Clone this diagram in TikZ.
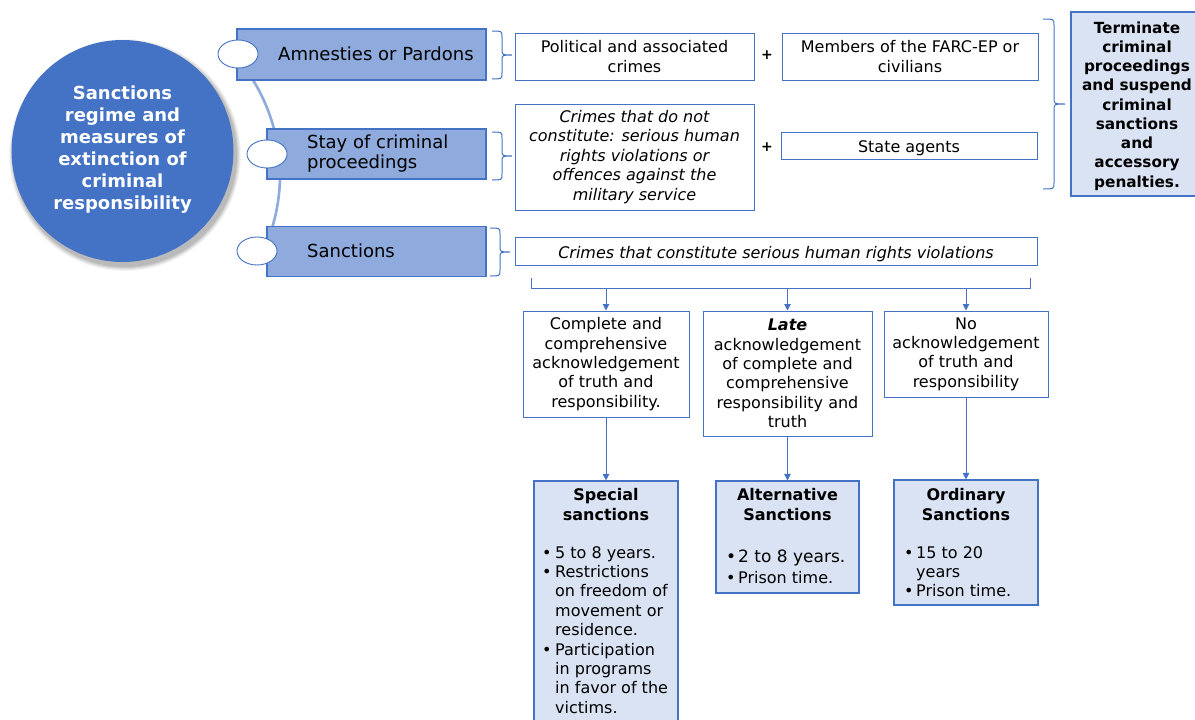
\documentclass[tikz,border=0pt]{standalone}
\usepackage{fontspec}
\setmainfont{DejaVu Sans}
\usetikzlibrary{arrows.meta,calc,shapes.geometric}
\definecolor{dblue}{HTML}{4472C4}
\definecolor{mblue}{HTML}{8FAADC}
\definecolor{lblue}{HTML}{DAE3F3}
\definecolor{edgeblue}{HTML}{4472C4}
\newcommand{\myfs}[2]{\fontsize{#1}{#2}\selectfont}
\newcommand{\bl}{\makebox[11pt][l]{•}}
\newcommand{\ind}{\hspace*{11pt}}
% right brace: x, ytop, ybottom, width
\newcommand{\rbr}[4]{%
  \draw[conn] (#1,#2) .. controls ({#1+0.5*#4},#2) .. ({#1+0.5*#4},{#2+6})
    -- ({#1+0.5*#4},{(#2+#3)/2-6}) .. controls ({#1+0.5*#4},{(#2+#3)/2}) .. ({#1+#4},{(#2+#3)/2})
    .. controls ({#1+0.5*#4},{(#2+#3)/2}) .. ({#1+0.5*#4},{(#2+#3)/2+6})
    -- ({#1+0.5*#4},{#3-6}) .. controls ({#1+0.5*#4},#3) .. (#1,#3);}
\begin{document}
\begin{tikzpicture}[x=1pt,y=-1pt,
  cat/.style={draw=edgeblue, line width=1.1pt, fill=mblue, inner sep=0pt},
  oval/.style={draw=edgeblue, line width=0.9pt, fill=white, ellipse, minimum width=40, minimum height=28, inner sep=0pt},
  wbox/.style={draw=edgeblue, line width=1pt, fill=white, inner sep=0pt, align=center, font=\myfs{16}{19.8}},
  lbox/.style={draw=edgeblue, line width=1.1pt, fill=lblue, inner sep=0pt},
  arr/.style={draw=edgeblue, line width=1pt, -{Triangle[length=6.5pt,width=6.5pt]}},
  conn/.style={draw=edgeblue, line width=1pt},
  plus/.style={font=\myfs{14}{16}\bfseries, inner sep=0pt}
]
\useasboundingbox (0,0) rectangle (1195,720);
\fill[white] (0,0) rectangle (1195,720);

% circle with soft shadow
\foreach \r/\o in {116/0.04,115/0.05,114/0.06,113/0.07,112/0.08}
  \fill[black, opacity=\o] (125,155) circle[radius=\r];
\node[circle, fill=dblue, minimum size=222, inner sep=0pt] (hub) at (122.5,151) {};
\node[text=white, font=\myfs{18}{22}\bfseries, align=center] (hubtext) at (hub.center) [yshift=1pt] {Sanctions\\regime and\\measures of\\extinction of\\criminal\\responsibility};

% arc
\draw[mblue, line width=2.6pt] (99.5,175) ++(-32:180.5) arc[start angle=-32, end angle=17, radius=180.5];

% category boxes
\node[cat, minimum width=249, minimum height=51] (amn) at (361.5,54.5) {};
\node[cat, minimum width=219, minimum height=50] (stay) at (376.5,154) {};
\node[cat, minimum width=219, minimum height=50] (sanc) at (376.5,251.5) {};
\node[oval] (o1) at (238,54) {};
\node[oval] (o2) at (267,154) {};
\node[oval] (o3) at (257,251) {};
\node[anchor=west, font=\myfs{18}{20}, inner sep=0pt] (amnt) at (278,54) {Amnesties or Pardons};
\node[anchor=west, font=\myfs{18}{20}, align=left, inner sep=0pt] (stayt) at (307,154) {Stay of criminal\\proceedings};
\node[anchor=west, font=\myfs{18}{20}, inner sep=0pt] (venct) at (307,251) {Sanctions};

% braces
\rbr{492}{31}{79}{20}
\rbr{492}{132}{180}{20}
\rbr{490}{228}{276}{20}

% white boxes
\node[wbox, minimum width=239, minimum height=47] (pol) at (634.5,56.5) {Political and associated\\crimes};
\node[plus] (p1) at (767,55) {+};
\node[wbox, minimum width=256, minimum height=47] (farc) at (910,56.5) {Members of the FARC-EP or\\civilians};
\node[wbox, minimum width=239, minimum height=106, font=\myfs{16}{19.5}\itshape] (notc) at (634.5,157) {Crimes that do not\\constitute: serious human\\rights violations or\\offences against the\\military service};
\node[plus] (p2) at (767,147) {+};
\node[wbox, minimum width=256, minimum height=27, text height=15pt, text depth=1pt] (state) at (909,145.5) {State agents};
\node[wbox, minimum width=522, minimum height=28, text height=15pt, text depth=1pt, font=\myfs{16}{19.5}\itshape] (serious) at (776,251) {Crimes that constitute serious human rights violations};

% big brace and result
\rbr{1043}{19}{189}{22}
\node[lbox, minimum width=126, minimum height=184] (term) at (1134,104) {};
\node[font=\myfs{15.3}{19.25}\bfseries, align=center, inner sep=0pt] (termt) at (1137,106) {Terminate\\criminal\\proceedings\\and suspend\\criminal\\sanctions\\and\\accessory\\penalties.};

% acknowledgement boxes
\node[wbox, minimum width=166, minimum height=106, font=\myfs{16}{19.3}] (comp) at (606,364) {Complete and\\comprehensive\\acknowledgement\\of truth and\\responsibility.};
\node[wbox, minimum width=169, minimum height=125, font=\myfs{16}{19.3}] (late) at (787.5,373.5) {\textbf{\textit{Late}}\\acknowledgement\\of complete and\\comprehensive\\responsibility and\\truth};
\node[wbox, minimum width=164, minimum height=86, font=\myfs{16}{19.3}] (noack) at (966,354) {No\\acknowledgement\\of truth and\\responsibility};

% bracket and arrows
\coordinate (bl) at ($(serious.south west)+(17,12)$);
\coordinate (br) at ($(serious.south east)+(-7,12)$);
\draw[conn] (bl) -- ++(0,11) coordinate (blb) -- (blb -| br) coordinate (brb) -- (br);
\draw[arr] (blb -| comp.north) -- (comp.north);
\draw[arr] (blb -| late.north) -- (late.north);
\draw[arr] (blb -| noack.north) -- (noack.north);

% sanction boxes
\node[lbox, minimum width=144, minimum height=250] (spec) at (606,606) {};
\node[lbox, minimum width=143, minimum height=112] (alt) at (787.5,537) {};
\node[lbox, minimum width=144, minimum height=125] (ord) at (966,542.5) {};
\draw[arr] (comp.south) -- (spec.north);
\draw[arr] (late.south) -- (alt.north);
\draw[arr] (noack.south) -- (ord.north);

\node[font=\myfs{16}{19.5}\bfseries, align=center, inner sep=0pt] (spech) at (606,504.5) {Special\\sanctions};
\node[font=\myfs{16}{19.5}\bfseries, align=center, inner sep=0pt] (alth) at (787.5,504.5) {Alternative\\Sanctions};
\node[font=\myfs{16}{19.5}\bfseries, align=center, inner sep=0pt] (ordh) at (966,504.5) {Ordinary\\Sanctions};

\node[anchor=north west, align=left, font=\myfs{16}{19.4}, inner sep=0pt] (specb) at (542,546) {\bl\hspace{2pt}5 to 8 years.\\\bl\hspace{2pt}Restrictions\\\ind\hspace*{2pt}on freedom of\\\ind\hspace*{2pt}movement or\\\ind\hspace*{2pt}residence.\\\bl\hspace{2pt}Participation\\\ind\hspace*{2pt}in programs\\\ind\hspace*{2pt}in favor of the\\\ind\hspace*{2pt}victims.};
\node[anchor=north west, align=left, font=\myfs{17}{22}, inner sep=0pt] (altb) at (726,550) {\bl\hspace{1pt}2 to 8 years.\\[-1pt]{\myfs{16}{19}\bl\hspace{1pt}Prison time.}};
\node[anchor=north west, align=left, font=\myfs{16}{19.4}, inner sep=0pt] (ordb) at (904,546) {\bl\hspace{1pt}15 to 20\\\ind\hspace*{1pt}years\\\bl\hspace{1pt}Prison time.};
\end{tikzpicture}
\end{document}
